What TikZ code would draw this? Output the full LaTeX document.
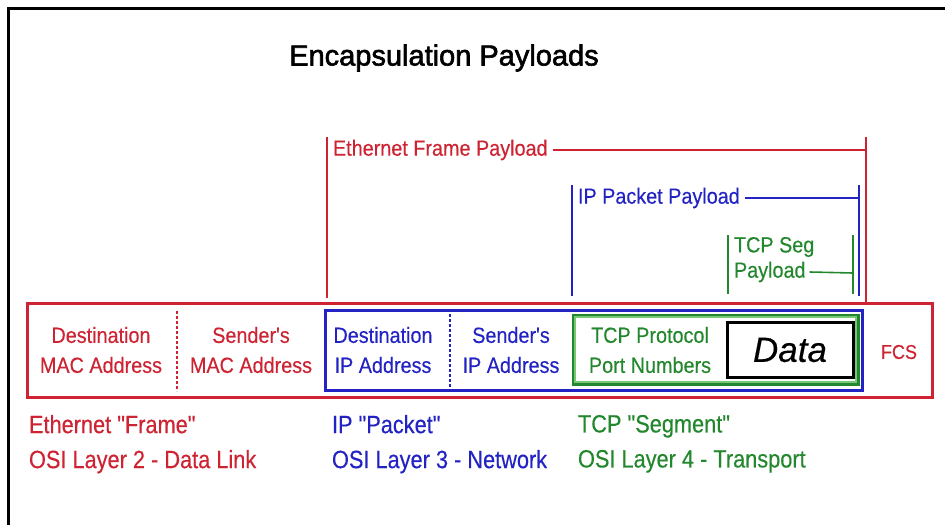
\documentclass[tikz,border=0pt]{standalone}
\usepackage{fontspec}
\setmainfont{Liberation Sans}[Ligatures=TeXOff,FakeBold=0.35]
\newfontfamily\headfont{Liberation Sans}[Ligatures=TeXOff,FakeBold=2]
\usepackage{graphicx}
\definecolor{ered}{RGB}{205,35,50}
\definecolor{eblue}{RGB}{35,35,195}
\definecolor{egreen}{RGB}{35,135,45}
\definecolor{egreenlt}{RGB}{120,200,120}
% slightly condensed lettering
\newcommand{\nrw}[1]{\scalebox{0.9}[1]{#1}}
\newcommand{\nrwb}[1]{\scalebox{0.87}[1]{#1}}
\begin{document}
\begin{tikzpicture}[x=1pt,y=-1pt,
  every node/.style={inner sep=0pt,outer sep=0pt},
  redframe/.style={draw=ered,line width=3},
  blueframe/.style={draw=eblue,line width=3},
  greenframe/.style={draw=egreen,line width=3},
  databox/.style={draw=black,line width=3},
  boxtext/.style={align=center,font=\fontsize{22}{30}\selectfont},
  plabel/.style={anchor=west,font=\fontsize{22}{25}\selectfont},
  legend/.style={anchor=north west,align=left,font=\fontsize{25}{35}\selectfont},
  bracket/.style={line width=2.2},
  spanline/.style={line width=1.6},
  divider/.style={line width=2.2,dash pattern=on 2.5pt off 2.5pt}]
\useasboundingbox (0,0) rectangle (945,525);

% page border (top and left edges only)
\coordinate (bTR) at (945,8);
\coordinate (bTL) at (8,8);
\coordinate (bBL) at (8,525);
\draw[line width=3] (bTR) -- (bTL) -- (bBL);

% title
\node[font=\headfont\fontsize{29}{34}\selectfont] (title) at (444,58) {Encapsulation Payloads};

% nested frame boxes
\node[redframe,minimum width=905,minimum height=94] (frame) at (479.5,350) {};
\node[blueframe,minimum width=537,minimum height=80] (packet) at (593.5,350) {};
\node[greenframe,minimum width=285,minimum height=69] (segment) at (715.5,349.5) {};
\draw[egreenlt,line width=1.6] ([shift={(2.2,2.2)}]segment.north west) rectangle ([shift={(-2.2,-2.2)}]segment.south east);
\node[databox,minimum width=126,minimum height=55] (data) at (790,349.5) {};

% dotted field dividers
\coordinate (rdA) at (177,311);
\coordinate (rdB) at (177,391);
\draw[divider,ered] (rdA) -- (rdB);
\coordinate (bdA) at (450,314);
\coordinate (bdB) at (450,387);
\draw[divider,eblue] (bdA) -- (bdB);

% field texts
\node[boxtext,text=ered] (dmac) at (101,350) {\nrw{Destination}\\\nrw{MAC Address}};
\node[boxtext,text=ered] (smac) at (251,350) {\nrw{Sender's}\\\nrw{MAC Address}};
\node[boxtext,text=eblue] (dip) at (383,350) {\nrw{Destination}\\\nrw{IP Address}};
\node[boxtext,text=eblue] (sip) at (511,350) {\nrw{Sender's}\\\nrw{IP Address}};
\node[boxtext,text=egreen] (ports) at (650,350) {\nrw{TCP Protocol}\\\nrw{Port Numbers}};
\node[font=\fontsize{35}{40}\selectfont\itshape] (datatxt) at (790,350) {Data};
\node[text=ered,font=\fontsize{20}{22}\selectfont] (fcs) at (899,352) {\nrw{FCS}};

% Ethernet frame payload span
\coordinate (eL1) at (327,137);
\coordinate (eL2) at (327,298);
\coordinate (eR1) at (866,137);
\coordinate (eR2) at (866,303);
\draw[bracket,ered] (eL1) -- (eL2);
\draw[bracket,ered] (eR1) -- (eR2);
\node[plabel,text=ered] (ethp) at (333,150) {\nrw{Ethernet Frame Payload}};
\coordinate (eH) at (866,150);
\draw[spanline,ered] ([xshift=5]ethp.east) -- (eH);

% IP packet payload span
\coordinate (iL1) at (572,185);
\coordinate (iL2) at (572,296);
\coordinate (iR1) at (859,185);
\coordinate (iR2) at (859,296);
\draw[bracket,eblue] (iL1) -- (iL2);
\draw[bracket,eblue] (iR1) -- (iR2);
\node[plabel,text=eblue] (ipp) at (578,198) {\nrw{IP Packet Payload}};
\coordinate (iH) at (859,198);
\draw[spanline,eblue] ([xshift=5]ipp.east) -- (iH);

% TCP segment payload span
\coordinate (tL1) at (728,235);
\coordinate (tL2) at (728,294);
\coordinate (tR1) at (853,235);
\coordinate (tR2) at (853,294);
\draw[bracket,egreen] (tL1) -- (tL2);
\draw[bracket,egreen] (tR1) -- (tR2);
\node[plabel,text=egreen] (tcps1) at (734,247) {\nrw{TCP Seg}};
\node[plabel,text=egreen] (tcps2) at (734,272) {\nrw{Payload}};
\coordinate (tH) at (853,273);
\draw[spanline,egreen] ([xshift=4]tcps2.east) -- (tH);

% layer legends
\node[legend,text=ered] (leg2) at (29,415) {\nrwb{Ethernet "Frame"}\\\nrwb{OSI Layer 2 - Data Link}};
\node[legend,text=eblue] (leg3) at (332,415) {\nrwb{IP "Packet"}\\\nrwb{OSI Layer 3 - Network}};
\node[legend,text=egreen] (leg4) at (578,415) {\nrwb{TCP "Segment"}\\\nrwb{OSI Layer 4 - Transport}};
\end{tikzpicture}
\end{document}
